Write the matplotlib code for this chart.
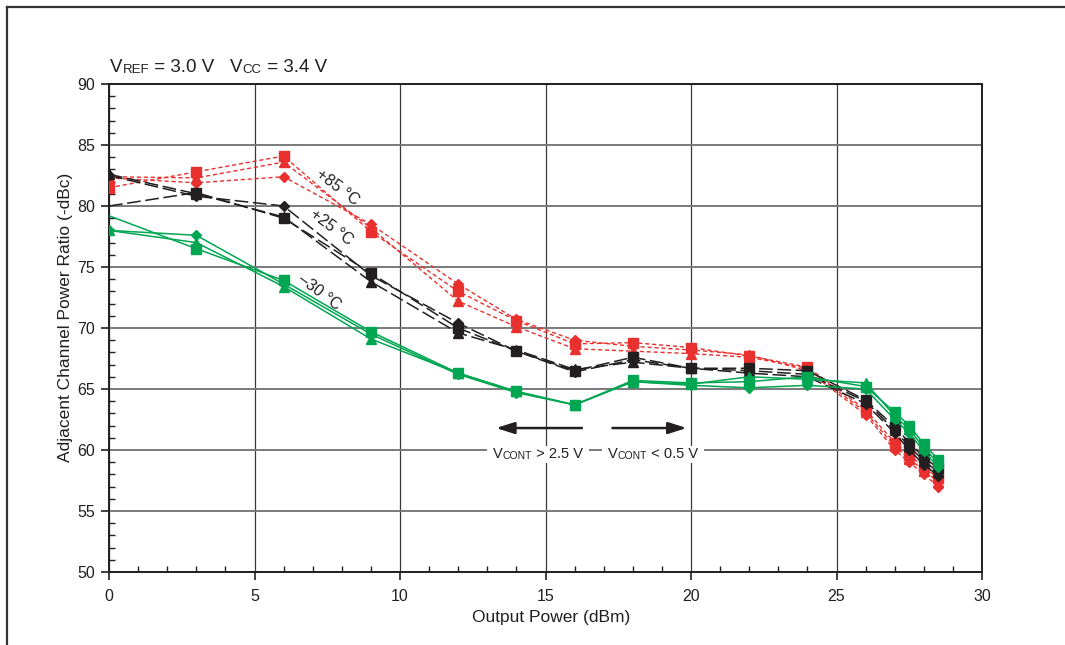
import matplotlib
matplotlib.use("Agg")
import matplotlib.pyplot as plt
from matplotlib import font_manager as fm
from matplotlib.lines import Line2D
from matplotlib.patches import Rectangle
from matplotlib.transforms import Bbox
from matplotlib.ticker import MultipleLocator


def pick_font(names):
    for n in names:
        try:
            fm.findfont(n, fallback_to_default=False)
            return n
        except ValueError:
            pass
    return "DejaVu Sans"


FONT = pick_font(["Liberation Sans Narrow", "Liberation Sans", "DejaVu Sans"])
plt.rcParams["font.family"] = [FONT, "DejaVu Sans"]

# output power (dBm)
power = [0, 3, 6, 9, 12, 14, 16, 18, 20, 22, 24, 26, 27, 27.5, 28, 28.5]

# +85 C (red, short dashes)
hot_sq = [81.5, 82.8, 84.1, 77.9, 73.0, 70.6, 68.7, 68.8, 68.4, 67.7, 66.8, 63.3, 60.6, 59.6, 58.6, 57.7]
hot_tri = [82.4, 82.3, 83.6, 78.2, 72.2, 70.1, 68.3, 68.1, 67.9, 67.6, 66.7, 63.1, 60.3, 59.3, 58.3, 57.4]
hot_dia = [82.3, 81.9, 82.4, 78.5, 73.6, 70.7, 69.0, 68.5, 68.2, 67.8, 66.5, 62.9, 60.0, 59.0, 58.0, 57.0]

# +25 C (black, long dashes)
room_sq = [80.0, 81.1, 79.0, 74.5, 70.0, 68.1, 66.5, 67.6, 66.7, 66.7, 66.5, 64.1, 61.9, 60.6, 59.4, 58.5]
room_tri = [82.6, 81.0, 79.1, 73.8, 69.6, 68.2, 66.6, 67.2, 66.7, 66.5, 66.2, 64.0, 61.6, 60.3, 59.1, 58.2]
room_dia = [82.5, 80.8, 80.0, 74.3, 70.4, 68.1, 66.4, 67.4, 66.7, 66.3, 66.0, 63.8, 61.4, 60.0, 58.8, 57.9]

# -30 C (green, solid)
cold_sq = [79.2, 76.5, 73.9, 69.7, 66.3, 64.8, 63.7, 65.7, 65.5, 65.6, 66.0, 65.2, 63.1, 62.0, 60.5, 59.2]
cold_tri = [78.0, 77.0, 73.4, 69.1, 66.3, 64.8, 63.7, 65.6, 65.4, 66.0, 65.8, 65.5, 62.8, 61.7, 60.2, 58.9]
cold_dia = [78.0, 77.6, 73.6, 69.5, 66.2, 64.7, 63.7, 65.6, 65.3, 65.1, 65.3, 65.0, 62.5, 61.4, 59.9, 58.6]

RED = "#e8302e"
BLACK = "#231f20"
GREEN = "#00a651"

groups = [
    (RED, (0, (3.0, 2.0)), 1.0, [hot_sq, hot_tri, hot_dia], 0),
    (BLACK, (0, (9.0, 3.0)), 1.1, [room_sq, room_tri, room_dia], 1),
    (GREEN, "-", 1.1, [cold_sq, cold_tri, cold_dia], 1),
]
markers = [("s", 7.0), ("^", 7.0), ("D", 5.5)]

fig = plt.figure(figsize=(10.65, 6.45), dpi=100)
ax = fig.add_axes([109 / 1065, 1 - 572 / 645, 873 / 1065, 488 / 645])

for color, ls, lw, series, sq_start in groups:
    for i, (vals, (mk, ms)) in enumerate(zip(series, markers)):
        every = slice(sq_start, None) if i == 0 else None
        ax.plot(power, vals, color=color, ls=ls, lw=lw, marker=mk, ms=ms,
                mec=color, mfc=color, markevery=every, zorder=3)

ax.set_xlim(0, 30)
ax.set_ylim(50, 90)
ax.xaxis.set_major_locator(MultipleLocator(5))
ax.yaxis.set_major_locator(MultipleLocator(5))
ax.xaxis.set_minor_locator(MultipleLocator(1))
ax.yaxis.set_minor_locator(MultipleLocator(1))
ax.tick_params(which="major", direction="out", length=6, width=1.2,
               labelsize=11.5, color=BLACK, labelcolor=BLACK)
ax.tick_params(axis="x", which="major", pad=6)
ax.tick_params(axis="y", which="major", pad=4)
ax.tick_params(which="minor", direction="in", length=4, width=1.0, color=BLACK)
ax.grid(True, axis="y", which="major", color="#7a7a7a", lw=1.4, zorder=1)
ax.grid(True, axis="x", which="major", color="#3a3a3a", lw=0.9, zorder=1)
ax.set_axisbelow(True)
for sp in ax.spines.values():
    sp.set_linewidth(1.4)
    sp.set_color(BLACK)

ax.set_xlabel("Output Power (dBm)", fontsize=12.5, color=BLACK)
ax.xaxis.set_label_coords(0.506, -0.078)
ax.set_ylabel("Adjacent Channel Power Ratio (-dBc)", fontsize=12.5, color=BLACK)
ax.yaxis.set_label_coords(-0.041, 0.522)


def chain(x, y, parts, transform, zorder=6):
    # run of text pieces with mixed sizes, each placed after the previous one
    t = ax.text(x, y, parts[0][0], fontsize=parts[0][1], transform=transform,
                va="bottom", ha="left", color=BLACK, clip_on=False, zorder=zorder)
    pieces = [t]
    for s, size in parts[1:]:
        pieces.append(ax.annotate(s, xy=(1, 0), xycoords=pieces[-1], fontsize=size,
                                  va="bottom", ha="left", color=BLACK,
                                  annotation_clip=False, zorder=zorder))
    return pieces


# condition line above the plot
chain(110 / 1065, 1 - 76 / 645,
      [("V", 13.5), ("REF", 9.5), (" = 3.0 V   V", 13.5), ("CC", 9.5), (" = 3.4 V", 13.5)],
      fig.transFigure)

# temperature labels
temps = ["+85 °C", "+25 °C", "\u201330 °C"]
temp_x = [7.84, 7.66, 7.22]
temp_y = [81.56, 78.28, 72.95]
for s, tx, ty in zip(temps, temp_x, temp_y):
    ax.text(tx, ty, s, fontsize=11.5, rotation=-37, ha="center", va="center",
            color=BLACK, zorder=4)

# V_CONT region arrows
arrow_y = 61.8
style = "-|>,head_length=1.1,head_width=0.35"
ax.annotate("", xy=(13.3, arrow_y), xytext=(16.25, arrow_y),
            arrowprops=dict(arrowstyle=style, color=BLACK, lw=1.8,
                            shrinkA=0, shrinkB=0), zorder=5)
ax.annotate("", xy=(19.85, arrow_y), xytext=(17.3, arrow_y),
            arrowprops=dict(arrowstyle=style, color=BLACK, lw=1.8,
                            shrinkA=0, shrinkB=0), zorder=5)

vcont_runs = [
    chain(13.2, 59.1, [("V", 10.5), ("CONT", 7.5), (" > 2.5 V", 10.5)], ax.transData),
    chain(17.15, 59.1, [("V", 10.5), ("CONT", 7.5), (" < 0.5 V", 10.5)], ax.transData),
]

# white patch behind each V_CONT label, covering the grid lines
fig.canvas.draw()
renderer = fig.canvas.get_renderer()
for run in vcont_runs:
    bb = Bbox.union([p.get_window_extent(renderer) for p in run])
    ax.add_patch(Rectangle((bb.x0 - 6, bb.y0 - 2), bb.width + 12, bb.height + 3,
                           transform=None, fc="white", ec="none", zorder=5.5,
                           clip_on=False))

# outer frame (left and top edges)
fig.add_artist(Line2D([7 / 1065, 7 / 1065], [0, 1 - 7 / 645], color="#333333",
                      lw=1.6, transform=fig.transFigure))
fig.add_artist(Line2D([7 / 1065, 1], [1 - 7 / 645, 1 - 7 / 645], color="#333333",
                      lw=1.6, transform=fig.transFigure))

fig.savefig("out.png", dpi=100, facecolor="white")
